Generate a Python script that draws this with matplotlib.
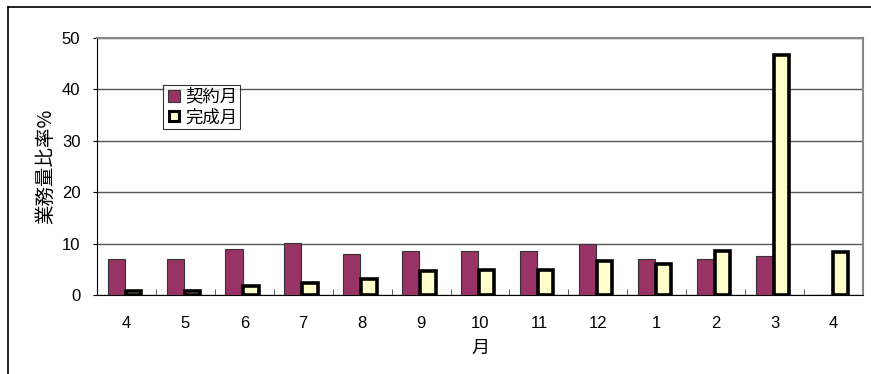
import numpy as np
import matplotlib
matplotlib.use("Agg")
import matplotlib.pyplot as plt
from matplotlib.lines import Line2D

plt.rcParams['font.family'] = ['Noto Sans CJK JP', 'DejaVu Sans']

# monthly share of workload (%)
months = ["4", "5", "6", "7", "8", "9", "10", "11", "12", "1", "2", "3", "4"]
contract = [7.0, 7.1, 8.9, 10.2, 8.0, 8.6, 8.6, 8.6, 9.9, 7.1, 7.1, 7.5, 0.0]
completion = [0.8, 0.8, 1.7, 2.4, 3.2, 4.6, 4.9, 4.9, 6.7, 6.1, 8.6, 46.7, 8.4]

purple = "#993366"
cream = "#ffffcc"

fig = plt.figure(figsize=(8.71, 3.74), dpi=100)
ax = fig.add_axes([97 / 871, 1 - 295 / 374, 766 / 871, 257 / 374])

x = np.arange(len(months))
w = 0.29
ax.bar(x - w / 2 - 0.03, contract, width=w, color=purple, edgecolor="#333333",
       linewidth=0.8, zorder=3)
ax.bar(x + w / 2 - 0.03, completion, width=w - 0.03, color=cream, edgecolor="black",
       linewidth=2.6, zorder=3)

ax.set_xlim(-0.5, len(months) - 0.5)
ax.set_ylim(0, 50)
ax.set_yticks(np.arange(0, 51, 10))
ax.yaxis.grid(True, color="#555555", linewidth=1.0, zorder=0)
ax.set_axisbelow(True)

ax.set_xticks(x)
ax.set_xticklabels(months)
ax.set_xticks(np.arange(0.5, len(months) - 1, 1), minor=True)
ax.tick_params(axis="x", which="major", length=0, pad=15, labelsize=12)
ax.tick_params(axis="x", which="minor", length=4, direction="in", color="#444444")
ax.tick_params(axis="y", length=3, labelsize=12, pad=9)
for lab in ax.get_xticklabels() + ax.get_yticklabels():
    lab.set_family("Liberation Sans")

ax.spines["left"].set_color("black")
ax.spines["bottom"].set_color("black")
ax.spines["top"].set_color("#888888")
ax.spines["right"].set_color("#888888")
ax.spines["top"].set_linewidth(1.5)
ax.spines["right"].set_linewidth(1.5)

ax.set_ylabel("業務量比率%", fontsize=14, labelpad=4)
ax.set_xlabel("月", fontsize=13, labelpad=6)

handles = [
    Line2D([], [], marker="s", linestyle="none", markersize=8,
           markerfacecolor=purple, markeredgecolor="#333333", markeredgewidth=0.8),
    Line2D([], [], marker="s", linestyle="none", markersize=7,
           markerfacecolor=cream, markeredgecolor="black", markeredgewidth=2.2),
]
leg = ax.legend(handles, ["契約月", "完成月"], loc="upper left",
                bbox_to_anchor=((163 - 97) / 766, (295 - 85) / 257),
                fontsize=12.5, frameon=True, fancybox=False, borderpad=0.15,
                handletextpad=0.15, handlelength=1.0, labelspacing=0.15,
                borderaxespad=0)
leg.get_frame().set_edgecolor("black")
leg.get_frame().set_linewidth(0.8)

# outer frame along the top and left edges
fig.add_artist(Line2D([8 / 871, 8 / 871], [0, 1 - 7 / 374], color="black", linewidth=1.2))
fig.add_artist(Line2D([8 / 871, 1], [1 - 7 / 374, 1 - 7 / 374], color="black", linewidth=1.2))

fig.savefig("out.png", dpi=100)
